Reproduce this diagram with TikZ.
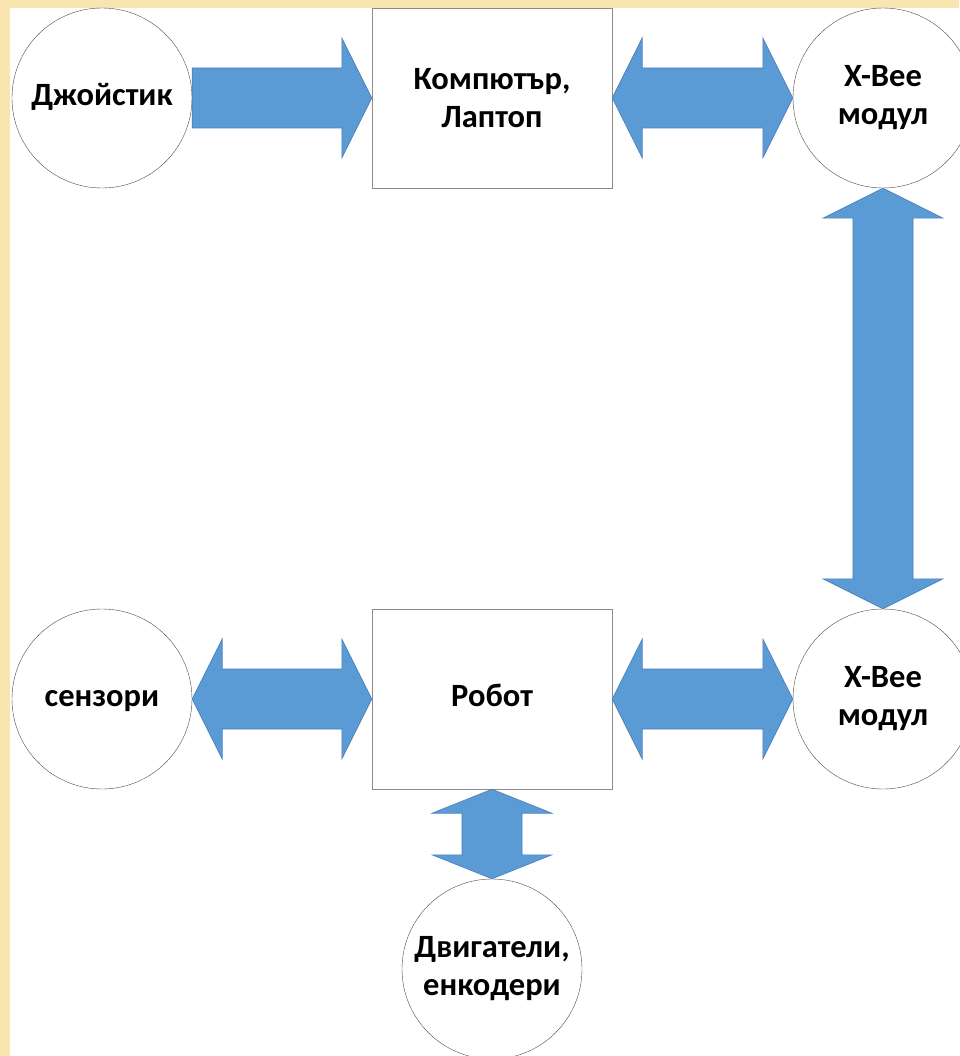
\documentclass[tikz,border=0pt]{standalone}
\usepackage{fontspec}
\setmainfont{Carlito}
\usepackage{tikz}
\usetikzlibrary{calc}
\definecolor{arrowblue}{HTML}{5B9BD5}
\definecolor{arrowline}{HTML}{4A7EBB}
\definecolor{slideyellow}{HTML}{F8E5B0}
\tikzset{x=1pt, y=-1pt, % One unit is one pixel of the slide, y goes down
every node/.style=
    { % Sets the properties for each label
        font=\fontsize{32.5}{38}\selectfont\bfseries,
        align=center
    },
    round/.style={ % Circles of the outer parts
        circle,
        draw=black!70,
        thin,
        fill=white,
        minimum size=180pt,
        inner sep=0pt
    },
    box/.style={ % Rectangles of computer and robot
        draw=black!45,
        thin,
        fill=white,
        minimum width=240pt,
        minimum height=180pt,
        inner sep=0pt
    },
    fatone/.style={ % Block arrow with one head
        draw=arrowline, fill=arrowblue, line width=0.6pt,
        to path={
            ($(\tikztotarget)!30pt!(\tikztostart)$) coordinate (hb)
            ($(\tikztostart)!30pt!90:(\tikztotarget)$)
            -- ($(hb)!30pt!-90:(\tikztostart)$) -- ($(hb)!60pt!-90:(\tikztostart)$)
            -- (\tikztotarget)
            -- ($(hb)!60pt!90:(\tikztostart)$) -- ($(hb)!30pt!90:(\tikztostart)$)
            -- ($(\tikztostart)!30pt!-90:(\tikztotarget)$) -- cycle
        }
    },
    fatdbl/.style={ % Block arrow with two heads, #1 is the head length
        draw=arrowline, fill=arrowblue, line width=0.6pt,
        to path={
            ($(\tikztostart)!#1!(\tikztotarget)$) coordinate (ha)
            ($(\tikztotarget)!#1!(\tikztostart)$) coordinate (hb)
            (\tikztostart)
            -- ($(ha)!60pt!90:(\tikztotarget)$) -- ($(ha)!30pt!90:(\tikztotarget)$)
            -- ($(hb)!30pt!-90:(\tikztostart)$) -- ($(hb)!60pt!-90:(\tikztostart)$)
            -- (\tikztotarget)
            -- ($(hb)!60pt!90:(\tikztostart)$) -- ($(hb)!30pt!90:(\tikztostart)$)
            -- ($(ha)!30pt!-90:(\tikztotarget)$) -- ($(ha)!60pt!-90:(\tikztotarget)$)
            -- cycle
        }
    },
    fatdbl/.default=30pt
}

\begin{document}
\begin{tikzpicture}
\useasboundingbox (0,0) rectangle (959,1056);
\fill[slideyellow] (0,0) rectangle (959,1056);
\fill[white] (10,8) rectangle (959,1056);

\node [round] (1) at (102,98)  {\strut Джойстик};
\node [box]   (2) at (492,98)  {Компютър,\\Лаптоп};
\node [round] (3) at (883,98)  {X-Bee\\модул};
\node [round] (4) at (883,699) {X-Bee\\модул};
\node [box]   (5) at (492,699) {\strut Робот};
\node [round] (6) at (102,699) {\strut сензори};
\node [round] (7) at (492,969) {Двигатели,\\енкодери};

\path
    (1.east) edge[fatone] (2.west)
    (2.east) edge[fatdbl] (3.west)
    (3.south) edge[fatdbl] (4.north)
    (6.east) edge[fatdbl] (5.west)
    (5.east) edge[fatdbl] (4.west)
    (5.south) edge[fatdbl=24pt] (7.north)
    ;
\end{tikzpicture}
\end{document}
